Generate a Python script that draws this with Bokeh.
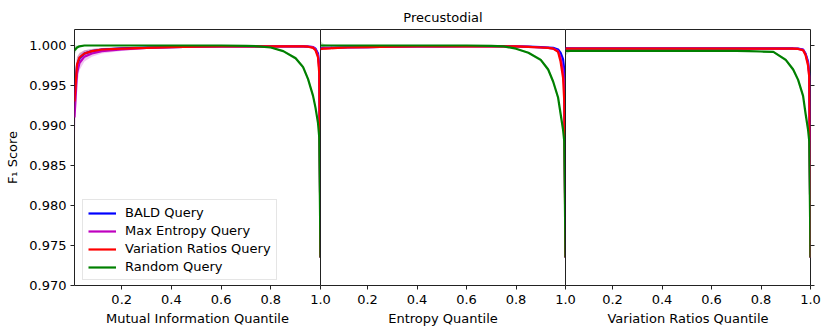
from bokeh.plotting import figure
from bokeh.layouts import row
from bokeh.models import (Range1d, FixedTicker, NumeralTickFormatter, Legend, LegendItem,
                          LinearAxis, CustomJSTickFormatter)
from bokeh.embed import file_html
from bokeh.resources import INLINE

# ---------------- data ----------------
x_q = [0.01, 0.02, 0.03, 0.05, 0.08, 0.12, 0.2, 0.3, 0.4, 0.5, 0.6, 0.7, 0.75,
       0.8, 0.85, 0.9, 0.93, 0.95, 0.97, 0.98, 0.99, 0.995, 1.0]

series_names = ["BALD Query", "Max Entropy Query", "Variation Ratios Query", "Random Query"]
panel_titles = ["Mutual Information Quantile", "Entropy Quantile", "Variation Ratios Quantile"]
y_ticks = [0.970, 0.975, 0.980, 0.985, 0.990, 0.995, 1.000]
x_ticks = [0.2, 0.4, 0.6, 0.8, 1.0]

# Mutual information panel
mi_bald = [0.9935, 0.9975, 0.9984, 0.9990, 0.9993, 0.9995, 0.99965, 0.99975, 0.9998, 0.99985, 0.9999, 0.9999,
           0.9999, 0.9999, 0.9999, 0.9999, 0.9999, 0.99985, 0.9998, 0.9996, 0.9990, 0.9975, 0.9735]
mi_maxent = [0.9910, 0.9965, 0.9978, 0.9986, 0.9990, 0.9993, 0.9995, 0.9997, 0.9998, 0.99985, 0.9999, 0.9999,
             0.9999, 0.9999, 0.9999, 0.9999, 0.9999, 0.99985, 0.9998, 0.9995, 0.9988, 0.9970, 0.9735]
mi_varratio = [0.9930, 0.9976, 0.9985, 0.9990, 0.9993, 0.9995, 0.99962, 0.9997, 0.9998, 0.99985, 0.9999, 0.9999,
               0.9999, 0.9999, 0.9999, 0.9999, 0.9999, 0.99985, 0.9997, 0.9994, 0.9985, 0.9965, 0.9735]
mi_random = [0.9994, 0.99975, 0.9999, 1.0, 1.0, 1.0, 1.0, 1.0, 1.0, 1.0, 1.0, 0.99995,
             0.9999, 0.99975, 0.9993, 0.9984, 0.9973, 0.9958, 0.9937, 0.9922, 0.9903, 0.9885, 0.9735]

# Entropy panel
ent_bald = [0.99965, 0.9997, 0.9997, 0.99972, 0.99975, 0.99978, 0.9998, 0.99985, 0.9999, 0.9999, 0.99992, 0.99992,
            0.99992, 0.9999, 0.99985, 0.9998, 0.99975, 0.9997, 0.9995, 0.9991, 0.9983, 0.9970, 0.9735]
ent_maxent = [0.9996, 0.99965, 0.99968, 0.9997, 0.99972, 0.99975, 0.9998, 0.99985, 0.9999, 0.9999, 0.9999, 0.9999,
              0.9999, 0.99988, 0.99983, 0.99975, 0.9997, 0.99962, 0.9993, 0.9985, 0.9970, 0.9950, 0.9735]
ent_varratio = [0.99955, 0.9996, 0.99962, 0.99965, 0.9997, 0.99975, 0.9998, 0.99985, 0.9999, 0.9999, 0.9999, 0.9999,
                0.9999, 0.99988, 0.99983, 0.99975, 0.9997, 0.9996, 0.9992, 0.9980, 0.9960, 0.9930, 0.9735]
ent_random = [1.0, 1.0, 1.0, 1.0, 1.0, 1.0, 1.0, 1.0, 1.0, 1.0, 1.0, 0.99995,
              0.9999, 0.9996, 0.9991, 0.9982, 0.9970, 0.9955, 0.9935, 0.9915, 0.9895, 0.9880, 0.9735]

# Variation ratios panel
vr_bald = [0.99965, 0.99965, 0.99965, 0.99965, 0.99965, 0.99965, 0.99965, 0.99965, 0.99965, 0.99965, 0.99965, 0.99965,
           0.99965, 0.99965, 0.99965, 0.99965, 0.99963, 0.99962, 0.9995, 0.9990, 0.9980, 0.9965, 0.9735]
vr_maxent = [0.99962, 0.99962, 0.99962, 0.99962, 0.99962, 0.99962, 0.99962, 0.99962, 0.99962, 0.99962, 0.99962, 0.99962,
             0.99962, 0.99962, 0.99962, 0.99962, 0.9996, 0.99958, 0.99945, 0.9989, 0.9978, 0.9962, 0.9735]
vr_varratio = [0.99962, 0.99962, 0.99962, 0.99962, 0.99962, 0.99962, 0.99962, 0.99962, 0.99962, 0.99962, 0.99962, 0.99962,
               0.99962, 0.99962, 0.99962, 0.99962, 0.9996, 0.99957, 0.9994, 0.9988, 0.9975, 0.9960, 0.9735]
vr_random = [0.99932, 0.99932, 0.99932, 0.99932, 0.99932, 0.99932, 0.99932, 0.99932, 0.99932, 0.99932, 0.99932, 0.99932,
             0.9993, 0.99925, 0.9992, 0.9982, 0.9970, 0.9957, 0.9937, 0.9915, 0.9895, 0.9880, 0.9735]

# band half-widths (spread across runs)
sd_active_mi = [0.0025, 0.0010, 0.0006, 0.0004, 0.00025, 0.00018, 0.00012, 0.0001, 0.00008, 0.00006, 0.00005, 0.00005,
                0.00005, 0.00005, 0.00005, 0.00005, 0.00005, 0.00006, 0.00008, 0.00012, 0.0002, 0.0003, 0.0003]
sd_maxent_mi = [0.0035, 0.0015, 0.0009, 0.0006, 0.0004, 0.0003, 0.0002, 0.00015, 0.0001, 0.00008, 0.00006, 0.00006,
                0.00006, 0.00006, 0.00006, 0.00006, 0.00006, 0.00007, 0.0001, 0.00015, 0.0002, 0.0003, 0.0003]
sd_active_other = [0.00012, 0.0001, 0.00009, 0.00008, 0.00007, 0.00006, 0.00005, 0.00005, 0.00004, 0.00004, 0.00004, 0.00004,
                   0.00004, 0.00004, 0.00005, 0.00006, 0.00007, 0.00008, 0.0001, 0.00015, 0.0002, 0.0003, 0.0003]
sd_random = [0.0006, 0.00025, 0.00012, 0.00006, 0.00005, 0.00004, 0.00004, 0.00004, 0.00004, 0.00004, 0.00004, 0.00005,
             0.00006, 0.00008, 0.00012, 0.0002, 0.00025, 0.0003, 0.00035, 0.0004, 0.0004, 0.0004, 0.0004]

colors = ["#0000ff", "#bf00bf", "#ff0000", "#008000"]
FONT = "DejaVu Sans"
FS = "13px"
OVER = 12  # right border that lets the edge tick label sit centred on the panel join

panels = [
    (mi_bald, mi_maxent, mi_varratio, mi_random, [sd_active_mi, sd_maxent_mi, sd_active_mi, sd_random]),
    (ent_bald, ent_maxent, ent_varratio, ent_random, [sd_active_other, sd_active_other, sd_active_other, sd_random]),
    (vr_bald, vr_maxent, vr_varratio, vr_random, [sd_active_other, sd_active_other, sd_active_other, sd_random]),
]

y_range = Range1d(0.970, 1.002)
figs = []
for i, (b, m, v, r, sds) in enumerate(panels):
    left = 74 if i == 0 else 0
    right = 16 if i == 2 else OVER
    p = figure(frame_width=246 if i == 0 else 245, frame_height=256,
               x_range=Range1d(0.01, 1.0), y_range=y_range,
               output_backend="svg", toolbar_location=None,
               min_border_left=left, min_border_right=right,
               min_border_top=29, min_border_bottom=46,
               title="Precustodial" if i == 1 else None)
    p.background_fill_color = "white"
    p.border_fill_color = "white"
    if i > 0:
        p.border_fill_alpha = 0.0
        p.styles = {"margin-left": f"-{OVER}px"}
    p.outline_line_color = "#222222"
    p.outline_line_width = 1
    p.xgrid.visible = False
    p.ygrid.visible = False
    if i == 1:
        p.title.align = "center"
        p.title.text_font = FONT
        p.title.text_font_size = FS
        p.title.text_font_style = "normal"
        p.title.text_color = "black"
        p.title.offset = 0
        p.title.standoff = 10
    ax = p.xaxis[0]
    ax.ticker = FixedTicker(ticks=x_ticks)
    ax.formatter = NumeralTickFormatter(format="0.0")
    ax.axis_label = panel_titles[i]
    ax.axis_label_text_font = FONT
    ax.axis_label_text_font_size = FS
    ax.axis_label_text_font_style = "normal"
    ax.axis_label_text_color = "black"
    ax.axis_label_standoff = 4
    ax.major_label_text_font = FONT
    ax.major_label_text_font_size = FS
    ax.major_label_text_color = "black"
    ax.major_label_standoff = 5
    ax.major_tick_out = 4
    ax.major_tick_in = 0
    ax.minor_tick_out = 0
    ax.minor_tick_in = 0
    ax.axis_line_color = None
    ax.major_tick_line_color = "#222222"
    if i == 0:
        ya = p.yaxis[0]
        ya.ticker = FixedTicker(ticks=y_ticks)
        ya.formatter = NumeralTickFormatter(format="0.000")
        ya.axis_label = "F₁ Score"
        ya.axis_label_text_font = FONT
        ya.axis_label_text_font_size = FS
        ya.axis_label_text_font_style = "normal"
        ya.axis_label_text_color = "black"
        ya.axis_label_standoff = 6
        ya.major_label_text_font = FONT
        ya.major_label_text_font_size = FS
        ya.major_label_text_color = "black"
        ya.major_label_standoff = 4
        ya.major_tick_out = 4
        ya.major_tick_in = 0
        ya.minor_tick_out = 0
        ya.minor_tick_in = 0
        ya.axis_line_color = None
        ya.major_tick_line_color = "#222222"
    else:
        p.yaxis.visible = False
    if i == 2:
        rax = LinearAxis(ticker=FixedTicker(ticks=y_ticks),
                         formatter=CustomJSTickFormatter(code="return ''"),
                         major_label_text_color=None, major_label_standoff=0,
                         major_tick_out=4, major_tick_in=0, minor_tick_out=0, minor_tick_in=0,
                         axis_line_color=None, major_tick_line_color="#222222")
        p.add_layout(rax, "right")

    items = []
    for ys, sd, c in zip([b, m, v, r], sds, colors):
        lower = [y - s for y, s in zip(ys, sd)]
        upper = [y + s for y, s in zip(ys, sd)]
        p.varea(x=x_q, y1=lower, y2=upper, fill_color=c, fill_alpha=0.22)
    for ys, c, name in zip([b, m, v, r], colors, series_names):
        rl = p.line(x_q, ys, line_color=c, line_width=2.2)
        items.append(LegendItem(label=name, renderers=[rl]))
    if i == 0:
        leg = Legend(items=items, location=(8, 5))
        leg.label_text_font = FONT
        leg.label_text_font_size = FS
        leg.label_text_color = "black"
        leg.glyph_width = 28
        leg.glyph_height = 14
        leg.label_height = 14
        leg.spacing = 3
        leg.padding = 5
        leg.margin = 0
        leg.label_standoff = 9
        leg.border_line_color = "#cccccc"
        leg.border_line_width = 1
        leg.background_fill_alpha = 0.8
        p.add_layout(leg)
    figs.append(p)

layout = row(*figs)
layout.spacing = 0
open("out.html", "w").write(file_html(layout, INLINE))
